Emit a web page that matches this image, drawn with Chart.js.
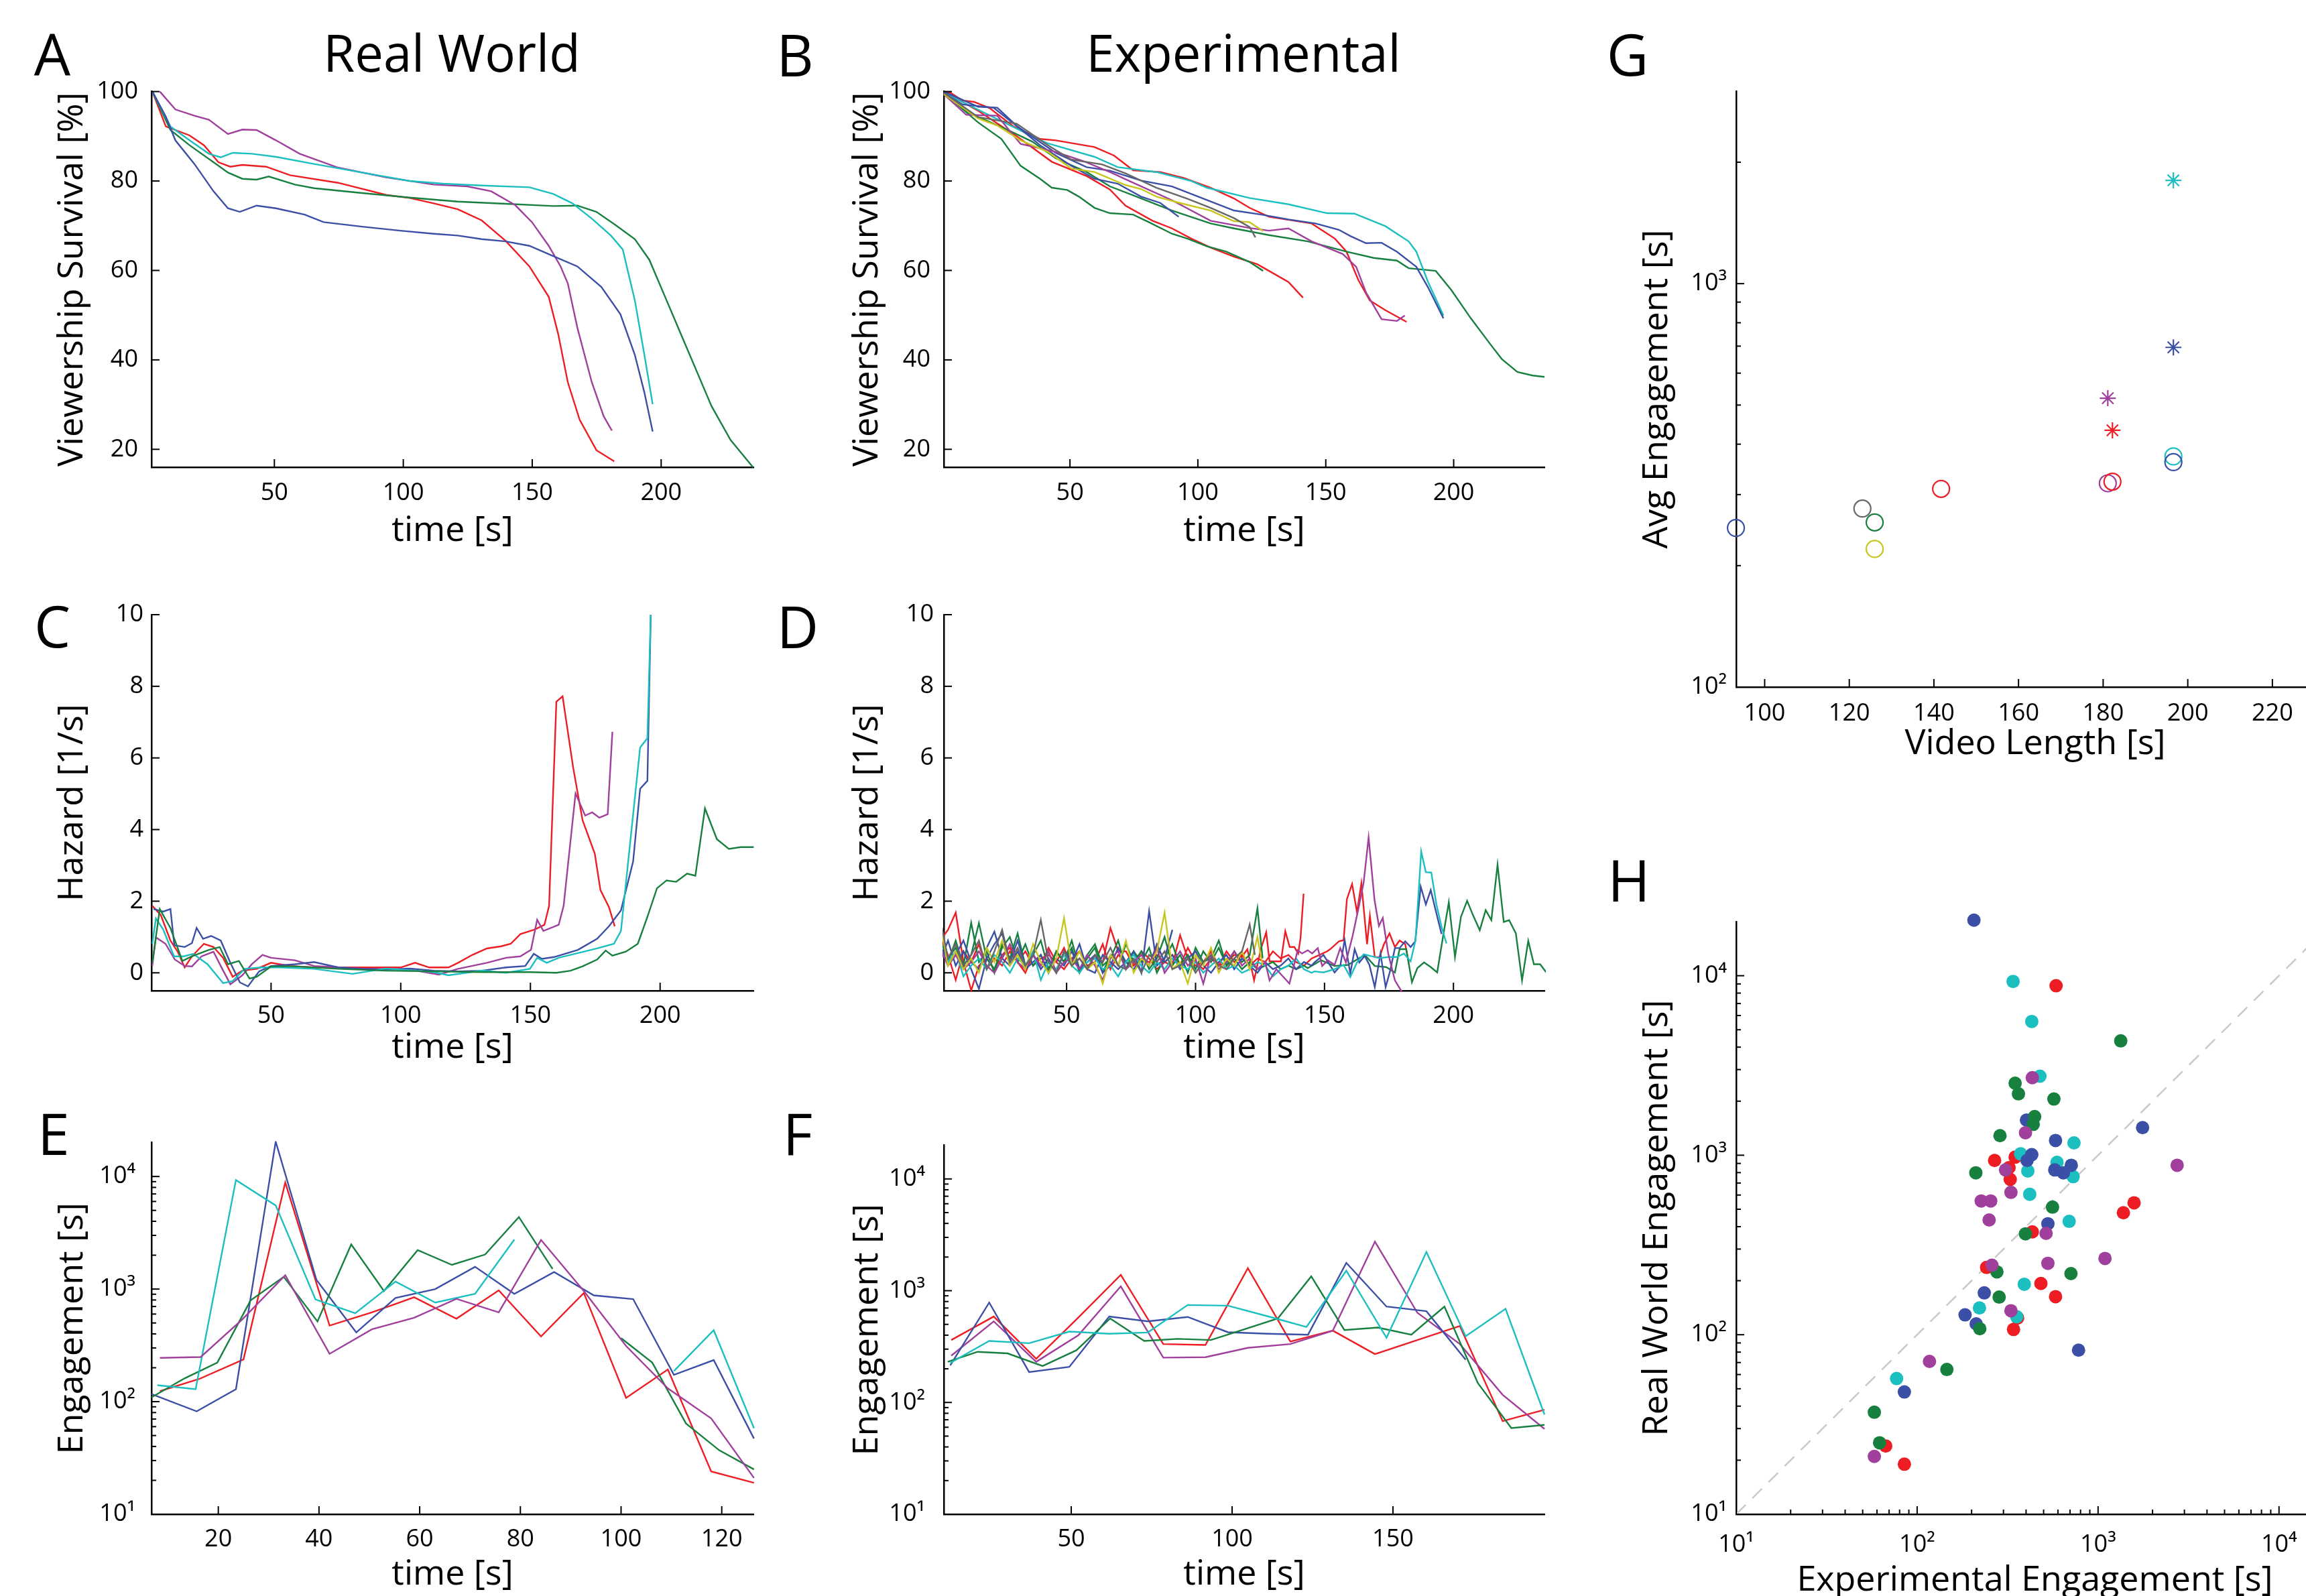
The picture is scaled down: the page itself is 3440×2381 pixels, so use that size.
<!DOCTYPE html>
<html>
<head>
<meta charset="utf-8">
<script src="https://cdn.jsdelivr.net/npm/chart.js@4.4.1/dist/chart.umd.min.js"></script>
<style>
  html, body { margin: 0; padding: 0; background: #fff; }
  body { width: 3440px; height: 2381px; overflow: hidden; position: relative; font-family: 'Open Sans', sans-serif; }
  .lbl { position: absolute; transform: translate(-50%, -50%); line-height: 1; color: #000; white-space: nowrap; }
  .letter { font-size: 86px; }
  .head { font-size: 76px; }
  canvas { position: absolute; }
</style>
</head>
<body>
<div class="lbl letter" style="left:78px;top:80px">A</div>
<div class="lbl letter" style="left:1186px;top:81px">B</div>
<div class="lbl letter" style="left:2428px;top:80px">G</div>
<div class="lbl letter" style="left:78px;top:933px">C</div>
<div class="lbl letter" style="left:1190px;top:934px">D</div>
<div class="lbl letter" style="left:80px;top:1690px">E</div>
<div class="lbl letter" style="left:1190px;top:1690px">F</div>
<div class="lbl letter" style="left:2430px;top:1312px">H</div>
<div class="lbl head" style="left:674px;top:78px">Real World</div>
<div class="lbl head" style="left:1855px;top:78px">Experimental</div>

<canvas id="pA"></canvas>
<canvas id="pB"></canvas>
<canvas id="pC"></canvas>
<canvas id="pD"></canvas>
<canvas id="pE"></canvas>
<canvas id="pF"></canvas>
<canvas id="pG"></canvas>
<canvas id="pH"></canvas>

<script>
/* ===== Data: A, real world viewership survival [%] (time, value) ===== */
const aBlue = [[2.7,100],[7.9,94.4],[11.6,89.1],[19.0,83.8],[26.4,77.7],[32.0,73.9],[36.6,73.1],[43.1,74.5],[50.6,73.9],[61.7,72.5],[69.1,70.8],[84.0,69.8],[98.8,68.9],[111.8,68.2],[121.1,67.8],[130.4,67.0],[139.7,66.5],[148.9,65.5],[158.2,63.2],[167.5,60.9],[176.8,56.3],[184.2,50.2],[189.8,41.1],[193.5,32.7],[196.7,24.0]];
const aRed = [[2.7,100],[7.9,92.2],[17.1,90.2],[22.7,88.0],[28.3,84.2],[32.9,83.2],[37.6,83.6],[46.8,83.2],[56.1,81.3],[74.7,79.6],[93.3,76.9],[102.5,76.2],[111.8,75.0],[121.1,73.7],[130.4,71.2],[139.7,66.6],[148.9,60.9],[156.4,54.1],[160.1,45.7],[163.8,35.0],[168.4,26.6],[174.9,19.8],[181.8,17.3]];
const aGreen = [[2.7,100],[9.7,91.4],[17.1,88.0],[26.4,84.2],[32.0,81.9],[37.6,80.5],[43.1,80.3],[47.8,81.0],[58.0,79.2],[65.4,78.4],[84.0,77.3],[102.5,76.3],[121.1,75.4],[139.7,74.9],[158.2,74.4],[167.5,74.5],[174.9,73.1],[182.4,70.1],[189.8,67.0],[195.4,62.4],[201.0,54.8],[208.3,44.9],[213.9,37.3],[219.5,29.7],[226.9,22.1],[235.6,16.0]];
const aCyan = [[2.7,100],[9.7,92.2],[17.1,89.1],[24.6,86.1],[29.2,85.3],[33.9,86.3],[41.3,86.1],[50.6,85.4],[65.4,83.8],[84.0,81.9],[102.5,80.0],[115.5,79.4],[130.4,79.0],[148.9,78.6],[158.2,77.1],[165.6,75.0],[173.1,71.6],[180.5,67.8],[185.1,64.7],[189.8,53.3],[193.5,41.1],[196.7,30.1]];
const aPurple = [[5.6,100],[11.6,96.0],[19.0,94.6],[24.6,93.7],[32.0,90.5],[37.6,91.5],[43.1,91.4],[50.6,89.1],[59.8,86.1],[74.7,83.0],[93.3,80.8],[111.8,79.2],[124.8,78.8],[134.1,77.7],[143.4,74.6],[149.9,70.8],[156.4,65.5],[161.0,60.9],[163.8,57.1],[167.5,47.2],[173.1,35.0],[177.7,27.4],[180.9,24.2]];

/* ===== Data: B, experimental viewership survival [%] ===== */
const bGreenLow = [[0.7,99.7],[14.1,93.1],[23.2,89.4],[30.7,83.4],[38.3,80.5],[42.9,78.5],[48.9,78.0],[53.5,76.5],[59.6,74.0],[65.6,72.8],[74.7,72.5],[80.8,70.8],[89.9,68.2],[96.0,67.1],[103.5,65.4],[111.1,64.2],[120.2,61.9],[125.5,59.9]];
const bGreenLong = [[0.7,99.7],[11.0,95.1],[24.7,91.7],[35.3,88.8],[44.4,85.1],[56.5,82.0],[65.6,78.8],[74.7,76.8],[89.9,73.4],[105.0,70.5],[114.1,69.4],[127.8,67.9],[143.0,66.5],[158.1,64.2],[168.7,62.8],[177.8,62.2],[182.4,60.5],[193.0,59.9],[199.1,55.6],[206.7,49.3],[214.2,43.6],[218.8,40.2],[224.9,37.3],[230.9,36.5],[235.5,36.2]];
const bRedHigh = [[0.7,100],[3.4,99.7],[8.0,98.0],[12.5,97.7],[18.6,96.3],[27.7,92.3],[38.3,89.4],[44.4,89.1],[59.6,87.6],[67.2,85.7],[74.7,82.4],[85.3,82.0],[94.4,80.7],[105.0,78.5],[114.1,76.1],[120.2,74.0],[127.8,72.0],[144.5,70.5],[153.6,67.1],[158.1,64.2],[162.7,57.9],[167.2,53.3],[173.3,51.1],[181.6,48.5]];
const bRedLow = [[0.7,100],[14.1,95.7],[29.2,90.0],[42.9,84.3],[56.5,81.1],[65.6,78.1],[71.7,74.5],[82.3,71.1],[89.9,69.4],[97.5,67.1],[105.0,65.1],[114.1,63.1],[123.2,61.4],[127.8,59.9],[135.4,57.4],[141.1,53.9]];
const bCyan = [[0.7,99.7],[17.1,95.1],[35.3,90.0],[41.4,88.4],[59.6,85.4],[68.7,83.1],[83.8,82.0],[97.5,80.0],[103.5,78.5],[120.2,76.2],[135.4,74.8],[150.5,72.8],[161.2,72.7],[173.3,69.9],[182.4,66.5],[185.4,64.2],[190.0,57.4],[196.0,49.9]];
const bBlueLong = [[0.7,99.7],[8.0,97.1],[20.1,96.4],[29.2,92.3],[44.4,86.3],[56.5,83.1],[65.6,82.3],[77.8,80.1],[89.9,78.8],[102.0,76.1],[114.1,73.4],[124.8,72.5],[135.4,71.4],[146.0,70.5],[155.1,69.1],[159.6,67.7],[165.7,66.1],[171.8,66.2],[177.8,64.2],[185.4,60.8],[190.0,56.2],[196.0,49.3]];
const bBlueShort = [[0.7,100],[14.1,96.6],[21.6,96.4],[29.2,92.3],[38.3,88.0],[50.5,83.4],[59.6,80.5],[68.7,79.4],[77.8,76.5],[85.3,75.1],[92.5,72.0]];
const bPurple = [[0.7,99.4],[9.5,94.8],[21.6,94.6],[30.7,88.3],[44.4,86.5],[55.0,84.5],[65.6,82.0],[74.7,79.6],[89.9,75.7],[105.0,71.1],[120.2,69.5],[127.8,68.9],[135.4,69.4],[144.5,66.5],[156.6,63.7],[161.9,60.8],[165.7,55.1],[171.8,49.1],[177.8,48.7],[180.9,49.9]];
const bYellow = [[0.7,99.4],[14.1,94.0],[21.6,92.4],[30.7,89.1],[41.4,86.5],[50.5,82.8],[59.6,82.0],[71.7,79.1],[77.8,78.2],[83.8,76.5],[92.9,75.1],[105.0,73.4],[114.1,71.0],[120.2,70.8],[125.5,68.8]];
const bGray = [[0.7,99.7],[14.1,94.3],[29.2,92.8],[41.4,88.0],[50.5,84.8],[62.6,83.7],[71.7,81.7],[83.8,78.5],[96.0,76.0],[105.0,74.0],[114.1,71.7],[120.2,69.7],[122.5,67.4]];

/* ===== Data: C, real world hazard [1/s] ===== */
const cBlue = [[4.7,1.78],[8.4,1.71],[11.2,1.78],[12.7,0.77],[16.7,0.72],[19.5,0.83],[21.3,1.25],[23.8,0.95],[26.9,1.03],[30.6,0.90],[34.3,0.28],[38.0,-0.27],[41.1,-0.38],[45.4,0.04],[50.0,0.19],[59.2,0.24],[66.6,0.30],[75.9,0.15],[85.1,0.11],[94.4,0.09],[103.6,0.12],[112.8,0.06],[122.1,0.04],[131.3,0.06],[140.6,0.15],[148.0,0.19],[151.3,0.53],[154.4,0.39],[159.1,0.44],[168.3,0.64],[175.7,0.95],[180.3,1.30],[184.9,1.74],[189.6,3.11],[192.3,5.14],[195.1,5.36],[196.4,10.0]];
const cRed = [[4.2,1.87],[7.5,1.61],[11.2,0.90],[14.0,0.59],[16.7,0.15],[19.5,0.46],[24.1,0.81],[27.8,0.72],[31.5,0.42],[35.2,-0.11],[38.9,0.06],[44.5,0.11],[50.0,0.28],[57.4,0.19],[66.6,0.15],[85.1,0.15],[100.0,0.15],[105.5,0.28],[111.0,0.15],[118.4,0.15],[122.1,0.28],[127.6,0.50],[133.2,0.68],[138.7,0.74],[142.4,0.81],[146.1,1.08],[151.7,1.21],[155.4,1.34],[157.2,1.87],[160.0,7.57],[162.4,7.72],[166.5,5.72],[170.1,4.26],[174.8,3.33],[177.0,2.31],[180.3,1.83],[182.5,1.30]];
const cGreen = [[4.2,0.28],[7.1,1.78],[11.2,1.25],[15.8,0.33],[19.5,0.46],[26.0,0.64],[30.2,0.72],[33.4,0.24],[37.6,0.33],[41.7,-0.16],[44.5,-0.11],[50.0,0.18],[59.2,0.18],[75.9,0.11],[94.4,0.06],[112.8,0.04],[131.3,0.02],[149.8,0.02],[160.0,0.0],[165.5,0.06],[170.1,0.18],[175.7,0.37],[179.0,0.62],[181.6,0.48],[186.8,0.59],[191.4,0.81],[195.1,1.56],[198.8,2.36],[202.5,2.58],[206.2,2.54],[210.4,2.77],[213.6,2.71],[217.3,4.59],[221.9,3.73],[226.5,3.46],[231.1,3.51],[236.1,3.51]];
const cCyan = [[4.2,0.81],[5.6,1.52],[8.4,1.21],[12.6,0.46],[16.3,0.46],[20.0,0.53],[25.5,0.24],[31.5,-0.29],[35.2,-0.23],[39.8,0.11],[46.3,0.15],[53.7,0.15],[66.6,0.11],[81.4,-0.03],[94.4,0.12],[112.8,0.02],[118.4,-0.07],[131.3,0.06],[140.6,0.0],[149.8,0.11],[152.6,0.42],[156.3,0.28],[160.9,0.42],[168.3,0.55],[175.7,0.68],[182.2,0.81],[184.9,1.17],[187.7,3.11],[192.3,6.29],[195.1,6.55],[196.4,10.0]];
const cPurple = [[4.2,0.19],[5.6,0.99],[9.3,0.81],[12.9,0.37],[16.7,0.19],[19.5,0.18],[23.2,0.46],[27.8,0.59],[30.6,0.19],[34.3,-0.32],[38.9,-0.07],[42.6,0.24],[46.7,0.50],[50.0,0.42],[59.2,0.35],[66.6,0.19],[85.1,0.12],[103.6,0.09],[114.7,-0.05],[122.1,0.11],[133.2,0.28],[140.6,0.42],[146.1,0.46],[150.2,0.64],[152.6,1.48],[155.0,1.17],[160.9,1.34],[162.8,1.87],[167.4,5.01],[171.1,4.39],[173.8,4.48],[176.6,4.33],[179.8,4.43],[181.6,6.73]];

/* ===== Data: D, experimental hazard [1/s]; first part sampled every 3 s from t = 1 ===== */
const dStep = 3;
const dBlueShort = [0.3,0.9,0.2,0.6,0.1,-0.45,0.4,0.8,1.1,0.3,0.9,0.2,0.5,0.1,0.4,0.0,0.6,0.3,0.8,0.1,0.0,0.5,0.3,0.1,0.3,0.6,0.0,1.72,0.2,0.4,1.2];
const dBlue = [0.8,0.2,0.5,0.9,0.3,0.1,0.7,1.15,0.4,0.2,0.6,0.1,0.3,0.5,0.0,0.4,0.2,0.6,0.1,0.3,0.5,0.0,0.2,0.7,0.3,0.1,0.4,0.2,0.8,0.3,0.5,0.1,0.4,0.6,0.2,0.0,0.3,0.5,0.1,0.4,0.2,0.0,0.3,0.1,0.2,0.4,0.1,0.3,0.2];
const dBlueTail = [[146.1,0.29],[149.6,0.50],[153.9,0.01],[156.1,0.19],[157.8,0.92],[160.0,-0.02],[161.7,0.66],[163.5,0.29],[165.6,0.47],[167.4,0.22],[169.5,-0.40],[171.7,0.54],[173.7,-0.40],[175.4,0.04],[177.3,0.69],[179.1,0.69],[181.3,0.88],[183.4,0.72],[185.2,0.88],[187.3,2.41],[189.3,1.91],[191.2,2.31],[193.4,1.66],[195.4,1.08]];
const dCyan = [1.5,0.3,0.6,-0.1,0.2,0.4,0.1,0.5,0.3,0.0,0.4,0.2,0.6,-0.2,0.3,0.1,0.5,0.2,0.0,0.3,0.4,0.1,0.2,-0.1,0.3,0.5,0.2,0.0,0.3,0.1,0.4,0.2,0.1,0.3,0.0,0.2,0.4,0.1,0.2,0.0,0.1,0.3,0.2,-0.1,0.1,0.2,0.4,0.1,0.0];
const dCyanTail = [[146.1,0.04],[149.6,0.01],[153.9,0.10],[157.4,0.22],[160.0,-0.12],[162.6,0.29],[165.2,0.52],[167.8,0.47],[171.3,0.41],[174.7,0.44],[178.2,0.44],[180.8,0.54],[183.4,0.32],[185.3,0.91],[187.5,3.39],[189.3,2.81],[191.4,2.80],[193.4,1.91],[195.4,1.28],[197.3,0.82]];
const dGreen = [0.9,0.4,0.7,0.2,1.4,0.3,0.6,0.0,0.8,0.4,1.1,0.2,0.5,0.9,0.1,0.6,0.3,0.7,0.0,0.5,0.8,0.2,0.4,0.9,0.1,0.6,0.3,0.7,0.0,0.4,0.8,0.2,0.5,0.1,0.6,0.3,0.7,0.2,0.4,0.1,0.3,0.1,0.2,0.3,0.1,0.2,0.1,0.2];
const dGreenTail = [[143.5,0.13],[148.7,0.35],[153.9,0.19],[159.1,0.22],[165.6,0.50],[169.5,0.19],[173.9,0.16],[177.3,0.01],[179.1,0.66],[181.7,0.66],[183.9,-0.26],[186.0,0.13],[188.6,0.29],[191.2,0.16],[193.7,0.01],[196.0,1.03],[198.2,1.97],[200.6,0.44],[202.9,1.56],[205.3,2.01],[207.7,1.59],[210.2,1.19],[212.5,1.75],[214.7,1.47],[217.1,3.02],[219.5,1.42],[221.6,1.47],[224.2,1.10],[226.6,-0.21],[229.0,0.89],[231.2,0.24],[233.6,0.24],[235.9,0.02]];
const dGreenShort = [0.6,0.3,0.9,0.2,0.5,1.39,0.4,0.1,0.7,1.0,0.3,0.8,0.2,0.5,0.0,0.6,0.3,0.9,0.1,0.4,0.7,0.0,0.5,0.2,0.8,0.3,0.6,0.1,0.4,1.0,0.2,0.5,0.0,0.7,0.3,0.4,0.9,0.2,0.6,0.3,0.5,1.8];
const dGreenShortTail = [[126,0.4]];
const dRed = [1.0,0.5,-0.2,0.6,0.3,0.8,0.1,0.4,0.2,0.6,0.3,0.0,0.5,0.2,0.7,0.3,0.1,0.4,0.6,0.2,0.3,0.8,0.1,0.5,0.3,0.2,0.6,0.4,0.1,0.3,0.5,0.2,0.7,0.3,0.1,0.4,0.2,0.6,0.3,0.5,0.2,0.4,0.3,0.6,0.4,0.5,0.3,0.2,0.4,0.5,0.6];
const dRedTail = [[152.2,0.66],[155.6,0.88],[157.4,0.91],[158.7,2.06],[160.7,2.48],[162.6,1.69],[164.3,2.50],[166.5,0.80],[167.6,1.59],[169.5,0.44],[171.3,0.43],[173.0,0.79],[175.2,1.10],[177.3,0.72],[179.1,0.90],[181.3,0.80],[182.7,0.26]];
const dRedShort = [0.9,1.2,1.68,0.3,-0.49,0.2,0.4,0.1,0.5,0.7,0.3,0.6,0.2,0.4,0.5,0.3,0.7,0.2,0.4,0.1,0.5,0.3,1.25,0.6,0.6,0.2,0.4,0.3,0.5,0.3,0.2,1.05,0.4,0.2,0.3,0.6,0.2,0.3,0.5];
const dRedShortTail = [[117.9,0.44],[120.1,0.66],[122.7,-0.21],[125.3,0.66],[127.4,1.13],[128.7,0.32],[131.3,0.32],[133.1,0.32],[134.8,1.16],[136.5,0.72],[138.3,0.72],[139.8,0.54],[140.7,0.97],[141.9,2.21]];
const dPurple = [0.7,0.2,0.5,0.1,0.3,0.6,0.2,0.0,0.4,0.8,0.3,0.1,0.5,0.2,0.6,0.0,0.3,0.4,0.1,0.5,0.2,-0.2,0.4,0.6,0.1,0.3,0.5,0.2,0.7,0.0,0.3,0.6,0.2,0.4,-0.3,0.5,0.1,0.3,0.6,0.2,0.4,0.1,0.3];
const dPurpleTail = [[128.7,-0.21],[131.3,0.10],[136.4,-0.30],[139.6,0.63],[141.3,0.54],[143.5,0.63],[145.2,0.54],[147.4,0.69],[149.1,0.19],[151.3,0.35],[153.9,0.22],[156.1,0.69],[158.3,0.29],[160.9,1.03],[163.5,1.91],[165.2,2.53],[167.1,3.78],[169.4,2.03],[171.1,1.31],[172.6,1.53],[174.7,0.54],[177.3,-0.21],[179.9,-0.52],[181.5,-0.8]];
const dYellow = [1.4,0.2,0.6,0.1,0.4,0.0,0.7,0.3,0.9,0.2,0.5,0.1,0.8,0.3,0.0,0.4,1.53,0.2,0.6,0.1,0.3,-0.3,0.5,0.2,0.9,0.0,0.4,0.2,0.6,1.68,0.1,0.3,-0.3,0.5,0.2,0.7,0.0,0.4,0.2,0.6,0.1,1.0];
const dYellowTail = [[126,0.2]];
const dGray = [1.5,0.4,0.8,0.2,0.5,0.9,0.1,0.6,1.2,0.3,0.7,0.2,0.5,1.48,0.3,0.0,0.6,0.2,0.4,0.1,0.5,0.3,0.7,0.2,0.1,0.4,0.0,0.5,0.3,0.6,0.1,0.2,0.4,0.0,0.3,0.5,0.2,0.1,0.4,0.6,1.35];
const dGrayTail = [[123,0.5]];

/* ===== Data: E, real world engagement [s] (null = gap) ===== */
const eBlue = [[6.7,117],[15.7,82],[23.5,129],[31.4,20400],[39.5,1205],[47.4,412],[55.2,835],[63.1,1000],[71.0,1578],[78.8,907],[86.7,1416],[94.6,879],[102.4,815],[110.5,173],[118.4,234],[126.4,47]];
const eRed = [[8.4,124],[16.2,159],[25.0,237],[33.3,8850],[42.1,474],[50.5,621],[58.9,845],[67.3,546],[75.7,975],[84.1,379],[92.6,925],[101.0,108],[109.3,193],[117.9,24],[126.4,19]];
const eGreen = [[6.7,109],[13.3,161],[19.8,222],[26.4,792],[33.0,1285],[39.7,515],[46.4,2493],[52.9,961],[59.6,2218],[66.4,1641],[73.0,2028],[79.7,4365],[86.4,1510],[93.0,null],[100.0,367],[106.2,222],[112.9,64],[119.5,37],[126.4,25]];
const eCyan = [[7.9,140],[15.5,129],[23.5,9310],[31.4,5530],[39.3,809],[47.2,610],[55.2,1167],[63.1,759],[71.0,907],[78.8,2750],[86.7,null],[94.6,1026],[102.4,null],[110.5,187],[118.4,431],[126.4,58]];
const ePurple = [[8.4,245],[16.5,249],[24.8,540],[33.3,1327],[42.1,266],[50.5,439],[58.9,557],[67.3,819],[75.7,621],[84.1,2730],[92.6,961],[101.0,312],[109.3,131],[117.9,71],[126.4,21]];

/* ===== Data: F, experimental engagement [s] ===== */
const fRed = [[12.7,362],[25.9,587],[39.1,246],[52.2,575],[65.4,1387],[78.6,333],[91.7,327],[104.9,1589],[118.1,351],[131.3,439],[144.4,271],[157.6,362],[170.8,483],[184.1,68],[197.1,86]];
const fBlue = [[12.4,215],[24.5,783],[36.9,187],[49.4,208],[61.8,587],[73.8,532],[86.2,582],[98.7,425],[111.1,412],[123.6,404],[135.5,1775],[148.0,721],[160.4,655],[172.6,241]];
const fGreen = [[11.6,231],[20.9,284],[30.2,275],[41.1,212],[51.6,293],[62.1,564],[72.7,355],[83.1,371],[93.4,362],[103.8,451],[114.2,564],[124.6,1343],[134.9,445],[145.3,468],[155.7,404],[166.0,721],[176.4,149],[186.8,59],[197.1,63]];
const fCyan = [[12.4,226],[24.5,355],[36.9,339],[49.4,431],[61.8,412],[73.8,423],[86.2,745],[98.7,735],[111.1,590],[123.1,474],[135.5,1510],[148.0,379],[160.4,2218],[172.6,391],[185.0,689],[197.1,78]];
const fPurple = [[12.7,262],[25.9,532],[39.1,231],[52.2,399],[65.4,1094],[78.6,252],[91.7,254],[104.9,308],[118.1,333],[131.3,439],[144.4,2750],[157.6,634],[170.8,333],[184.1,117],[197.1,58]];

/* ===== Data: G, average engagement vs video length ===== */
const gCircleLength = [93.2, 123.1, 126.0, 126.0, 141.7, 181.1, 182.2, 196.6, 196.6];
const gCircleEngagement = [248, 277, 256, 220, 310, 320, 323, 373, 361];
const gStarLength = [196.6, 196.6, 181.1, 182.2];
const gStarEngagement = [1803, 695, 520, 433];

/* ===== Data: H, experimental vs real world engagement [s] ===== */
const hBlue = [[206,20400],[402,1570],[582,1208],[430,1007],[405,935],[576,828],[643,798],[711,879],[528,415],[235,171],[184,129],[212,115],[85,48],[780,82],[1762,1425]];
const hCyan = [[339,9290],[430,5560],[477,2755],[736,1172],[373,1018],[409,817],[593,912],[728,760],[419,606],[692,428],[391,191],[221,141],[355,126],[77,57]];
const hRed = [[586,8790],[268,935],[348,975],[322,853],[327,733],[433,374],[242,237],[483,193],[582,163],[359,124],[341,107],[1380,478],[1581,543],[67,24],[85,19]];
const hGreen = [[1334,4335],[348,2518],[363,2198],[570,2056],[446,1641],[438,1486],[287,1285],[211,798],[560,514],[397,365],[276,224],[284,162],[222,108],[146,64],[58,37],[62,25],[708,219]];
const hPurple = [[433,2704],[397,1334],[308,828],[330,621],[226,556],[255,556],[250,436],[516,367],[259,244],[528,250],[1092,266],[330,136],[117,71],[58,21],[2735,879]];
const hDiagonal = [10, 20000];

/* ===== Tick values ===== */
const surviveTicks = [20, 40, 60, 80, 100];
const timeTicks = [50, 100, 150, 200];
const hazardTicks = [0, 2, 4, 6, 8, 10];
const engageTicks = [10, 100, 1000, 10000];
const eTimeTicks = [20, 40, 60, 80, 100, 120];
const fTimeTicks = [50, 100, 150];
const gLengthTicks = [100, 120, 140, 160, 180, 200, 220];
const gEngageTicks = [100, 1000];

/* ===== Styles ===== */
const FONT = "'Open Sans', sans-serif";
const BLUE = '#3b4fa6', RED = '#ee1d23', GREEN = '#17803f', CYAN = '#1bbfc0',
      PURPLE = '#a03f9c', YELLOW = '#c8c61e', GRAY = '#676767';
const gCircleColors = [BLUE, GRAY, GREEN, YELLOW, RED, PURPLE, RED, CYAN, BLUE];
const gStarColors = [CYAN, BLUE, PURPLE, RED];

Chart.defaults.color = '#000';
Chart.defaults.font.family = FONT;

const SUP = {1: '\u00B9', 2: '\u00B2', 3: '\u00B3', 4: '\u2074'};
const powLabel = v => '10' + SUP[Math.round(Math.log10(v))];

// MATLAB style: tick marks point into the axes, minor ticks on log axes
const inwardTicks = {
    id: 'inwardTicks',
    afterDraw(chart) {
        const ctx = chart.ctx;
        const area = chart.chartArea;
        ctx.save();
        ctx.strokeStyle = '#000';
        ctx.lineWidth = 2;
        for (const scale of Object.values(chart.scales)) {
            const isX = scale.axis === 'x';
            const marks = scale.ticks.map(t => [t.value, 12]);
            if (scale.type === 'logarithmic') {
                const lo = Math.floor(Math.log10(scale.min));
                const hi = Math.ceil(Math.log10(scale.max));
                for (let d = lo; d <= hi; d++) {
                    for (let k = 2; k <= 9; k++) {
                        const v = k * Math.pow(10, d);
                        if (v > scale.min && v < scale.max) marks.push([v, 7]);
                    }
                }
            }
            for (const [v, len] of marks) {
                const p = scale.getPixelForValue(v);
                ctx.beginPath();
                if (isX) { ctx.moveTo(p, area.bottom); ctx.lineTo(p, area.bottom - len); }
                else { ctx.moveTo(area.left, p); ctx.lineTo(area.left + len, p); }
                ctx.stroke();
            }
        }
        ctx.restore();
    }
};
Chart.register(inwardTicks);

function place(id, box) {
    const c = document.getElementById(id);
    const w = box.r - box.l + box.lw + box.rp;
    const h = box.b - box.t + box.tp + box.bh;
    c.width = w; c.height = h;
    c.style.left = (box.l - box.lw) + 'px';
    c.style.top = (box.t - box.tp) + 'px';
    c.style.width = w + 'px';
    c.style.height = h + 'px';
    return c;
}

function axis(o, horizontal, size) {
    return {
        type: o.type || 'linear',
        min: o.min, max: o.max,
        grid: { display: false, drawTicks: false },
        border: { display: true, color: '#000', width: 2.5 },
        ticks: {
            font: { family: FONT, size: 36 }, color: '#000', padding: o.pad,
            autoSkip: false, maxRotation: 0, minRotation: 0,
            callback: o.fmt || (v => String(v))
        },
        afterBuildTicks: s => { s.ticks = o.ticks.map(v => ({ value: v })); },
        afterFit: s => { if (horizontal) s.height = size; else s.width = size; },
        title: { display: true, text: o.title, font: { family: FONT, size: 52 }, padding: 0, color: '#000' }
    };
}

function options(box, xo, yo) {
    return {
        responsive: false, animation: false, devicePixelRatio: 1, events: [],
        layout: { padding: { left: 0, top: box.tp, right: box.rp, bottom: 0 } },
        plugins: { legend: { display: false }, tooltip: { enabled: false } },
        scales: { x: axis(xo, true, box.bh), y: axis(yo, false, box.lw) }
    };
}

const pts = pairs => pairs.map(p => ({ x: p[0], y: p[1] }));
const gridPts = (vals, tail) => vals.map((v, i) => ({ x: 1 + i * dStep, y: v })).concat(pts(tail || []));

function line(data, color) {
    return { data: data, borderColor: color, borderWidth: 2.4, pointRadius: 0, tension: 0, spanGaps: false, fill: false, clip: 2 };
}

function lineChart(id, box, datasets, xo, yo) {
    new Chart(place(id, box), { type: 'line', data: { datasets: datasets }, options: options(box, xo, yo) });
}

/* ===== A ===== */
const boxA = { l: 226, r: 1124, t: 135, b: 697, lw: 149, bh: 126, tp: 40, rp: 30 };
lineChart('pA', boxA, [
    line(pts(aBlue), BLUE), line(pts(aCyan), CYAN), line(pts(aPurple), PURPLE),
    line(pts(aGreen), GREEN), line(pts(aRed), RED)
], { min: 2.35, max: 235.8, ticks: timeTicks, pad: 17, title: 'time [s]' },
   { min: 16, max: 100, ticks: surviveTicks, pad: 20, title: 'Viewership Survival [%]' });

/* ===== B ===== */
const boxB = { l: 1408, r: 2304, t: 135, b: 697, lw: 145, bh: 126, tp: 40, rp: 30 };
lineChart('pB', boxB, [
    line(pts(bGray), GRAY), line(pts(bYellow), YELLOW), line(pts(bPurple), PURPLE),
    line(pts(bBlueShort), BLUE), line(pts(bBlueLong), BLUE), line(pts(bCyan), CYAN),
    line(pts(bGreenLong), GREEN), line(pts(bGreenLow), GREEN),
    line(pts(bRedLow), RED), line(pts(bRedHigh), RED)
], { min: 0.7, max: 235.5, ticks: timeTicks, pad: 17, title: 'time [s]' },
   { min: 16, max: 100, ticks: surviveTicks, pad: 20, title: 'Viewership Survival [%]' });

/* ===== C ===== */
const boxC = { l: 226, r: 1124, t: 917, b: 1478, lw: 149, bh: 116, tp: 40, rp: 30 };
lineChart('pC', boxC, [
    line(pts(cGreen), GREEN), line(pts(cCyan), CYAN), line(pts(cBlue), BLUE),
    line(pts(cPurple), PURPLE), line(pts(cRed), RED)
], { min: 3.9, max: 236, ticks: timeTicks, pad: 16, title: 'time [s]' },
   { min: -0.5, max: 10, ticks: hazardTicks, pad: 12, title: 'Hazard [1/s]' });

/* ===== D ===== */
const boxD = { l: 1408, r: 2304, t: 917, b: 1478, lw: 145, bh: 116, tp: 40, rp: 30 };
lineChart('pD', boxD, [
    line(gridPts(dGray, dGrayTail), GRAY), line(gridPts(dYellow, dYellowTail), YELLOW),
    line(gridPts(dPurple, dPurpleTail), PURPLE), line(gridPts(dCyan, dCyanTail), CYAN),
    line(gridPts(dBlueShort), BLUE), line(gridPts(dBlue, dBlueTail), BLUE),
    line(gridPts(dGreenShort, dGreenShortTail), GREEN), line(gridPts(dGreen, dGreenTail), GREEN),
    line(gridPts(dRedShort, dRedShortTail), RED), line(gridPts(dRed, dRedTail), RED)
], { min: 2.4, max: 235.3, ticks: timeTicks, pad: 16, title: 'time [s]' },
   { min: -0.5, max: 10, ticks: hazardTicks, pad: 15, title: 'Hazard [1/s]' });

/* ===== E ===== */
const boxE = { l: 226, r: 1124, t: 1699, b: 2259, lw: 149, bh: 121, tp: 40, rp: 30 };
lineChart('pE', boxE, [
    line(pts(ePurple), PURPLE), line(pts(eCyan), CYAN), line(pts(eGreen), GREEN),
    line(pts(eBlue), BLUE), line(pts(eRed), RED)
], { min: 6.73, max: 126.3, ticks: eTimeTicks, pad: 16, title: 'time [s]' },
   { type: 'logarithmic', min: 10, max: 20000, ticks: engageTicks, pad: 24, fmt: powLabel, title: 'Engagement [s]' });

/* ===== F ===== */
const boxF = { l: 1408, r: 2304, t: 1699, b: 2259, lw: 145, bh: 121, tp: 40, rp: 30 };
lineChart('pF', boxF, [
    line(pts(fCyan), CYAN), line(pts(fGreen), GREEN), line(pts(fBlue), BLUE),
    line(pts(fPurple), PURPLE), line(pts(fRed), RED)
], { min: 10.4, max: 197.1, ticks: fTimeTicks, pad: 16, title: 'time [s]' },
   { type: 'logarithmic', min: 10, max: 20000, ticks: engageTicks, pad: 28, fmt: powLabel, title: 'Engagement [s]' });

/* ===== G ===== */
const boxG = { l: 2590, r: 3482, t: 136, b: 1025, lw: 149, bh: 116, tp: 40, rp: 30 };
new Chart(place('pG', boxG), {
    type: 'scatter',
    data: { datasets: [
        { data: gCircleLength.map((x, i) => ({ x: x, y: gCircleEngagement[i] })),
          pointStyle: 'circle', pointRadius: 12.5, pointBorderWidth: 2.2,
          pointBorderColor: gCircleColors, pointBackgroundColor: 'rgba(0,0,0,0)', clip: false },
        { data: gStarLength.map((x, i) => ({ x: x, y: gStarEngagement[i] })),
          pointStyle: 'star', pointRadius: 12, pointBorderWidth: 2.2,
          pointBorderColor: gStarColors, pointBackgroundColor: 'rgba(0,0,0,0)', clip: false }
    ] },
    options: options(boxG,
        { min: 93.27, max: 234.6, ticks: gLengthTicks, pad: 18, title: 'Video Length [s]' },
        { type: 'logarithmic', min: 100, max: 3000, ticks: gEngageTicks, pad: 14, fmt: powLabel, title: 'Avg Engagement [s]' })
});

/* ===== H ===== */
const boxH = { l: 2590, r: 3481, t: 1375, b: 2259, lw: 149, bh: 130, tp: 40, rp: 30 };
const dot = (pairs, color) => ({ data: pts(pairs), pointStyle: 'circle', pointRadius: 10, pointBorderWidth: 0,
    pointBackgroundColor: color, pointBorderColor: color, clip: false, order: 1 });
new Chart(place('pH', boxH), {
    type: 'scatter',
    data: { datasets: [
        { type: 'line', data: hDiagonal.map(v => ({ x: v, y: v })), borderColor: '#c9c9c9', borderWidth: 2.5,
          borderDash: [20, 14], pointRadius: 0, showLine: true, order: 10 },
        dot(hPurple, PURPLE), dot(hGreen, GREEN), dot(hBlue, BLUE), dot(hCyan, CYAN), dot(hRed, RED)
    ] },
    options: options(boxH,
        { type: 'logarithmic', min: 10, max: 20000, ticks: engageTicks, pad: 24, fmt: powLabel, title: 'Experimental Engagement [s]' },
        { type: 'logarithmic', min: 10, max: 20000, ticks: engageTicks, pad: 14, fmt: powLabel, title: 'Real World Engagement [s]' })
});
</script>
</body>
</html>
